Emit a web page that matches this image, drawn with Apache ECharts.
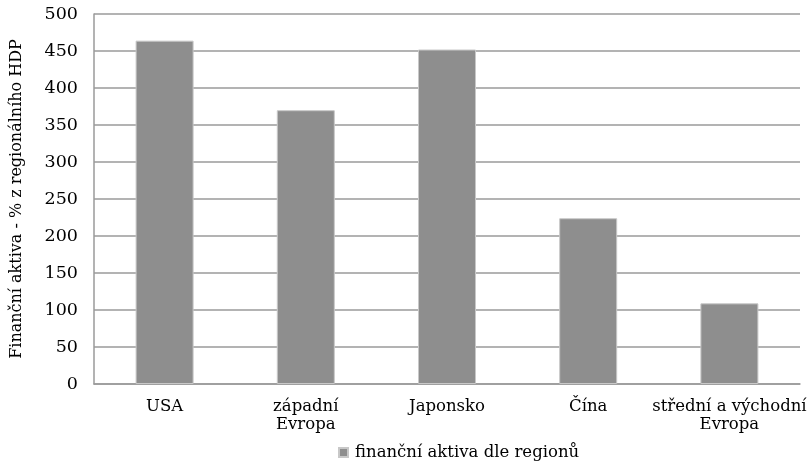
<!DOCTYPE html>
<html>
<head>
<meta charset="utf-8">
<script src="https://cdn.jsdelivr.net/npm/echarts@6/dist/echarts.min.js"></script>
<style>
  html, body { margin: 0; padding: 0; background: #fff; }
  #chart { width: 810px; height: 461px; }
</style>
</head>
<body>
<div id="chart"></div>
<script>
// Regions and their financial assets as % of regional GDP
const categories = ['USA', 'západní\nEvropa', 'Japonsko', 'Čína', 'střední a východní\nEvropa'];
const values = [464, 370, 452, 224, 109];
const seriesName = 'finanční aktiva dle regionů';
const yAxisName = 'Finanční aktiva - % z regionálního HDP';

const font = '"DejaVu Serif", "Liberation Serif", serif';
const chart = echarts.init(document.getElementById('chart'));

chart.setOption({
  animation: false,
  textStyle: { fontFamily: font, color: '#000' },
  grid: { left: 94, right: 10, top: 14, bottom: 77 },
  legend: {
    top: 444,
    left: 338,
    padding: 0,
    data: [seriesName],
    itemWidth: 9,
    itemHeight: 9,
    itemGap: 6,
    icon: 'rect',
    textStyle: { fontFamily: font, fontSize: 16.5, color: '#000', padding: [0, 0, 0, 2] }
  },
  xAxis: {
    type: 'category',
    data: categories,
    axisLine: { lineStyle: { color: '#9a9a9a', width: 1.5 } },
    axisTick: { show: false },
    axisLabel: { interval: 0, fontFamily: font, fontSize: 16.5, color: '#000', margin: 14, lineHeight: 18 }
  },
  yAxis: {
    type: 'value',
    min: 0,
    max: 500,
    interval: 50,
    name: yAxisName,
    nameLocation: 'middle',
    nameRotate: 90,
    nameGap: 69,
    nameTextStyle: { fontFamily: font, fontSize: 16, color: '#000' },
    axisLine: { show: true, lineStyle: { color: '#9a9a9a', width: 1.5 } },
    axisTick: { show: false },
    axisLabel: { fontFamily: font, fontSize: 17.5, color: '#000', margin: 16 },
    splitLine: { lineStyle: { color: '#9a9a9a', width: 1.5 } }
  },
  series: [{
    name: seriesName,
    type: 'bar',
    data: values,
    barWidth: 58,
    itemStyle: { color: '#8e8e8e', borderColor: '#c8c8c8', borderWidth: 1 }
  }]
});
</script>
</body>
</html>
